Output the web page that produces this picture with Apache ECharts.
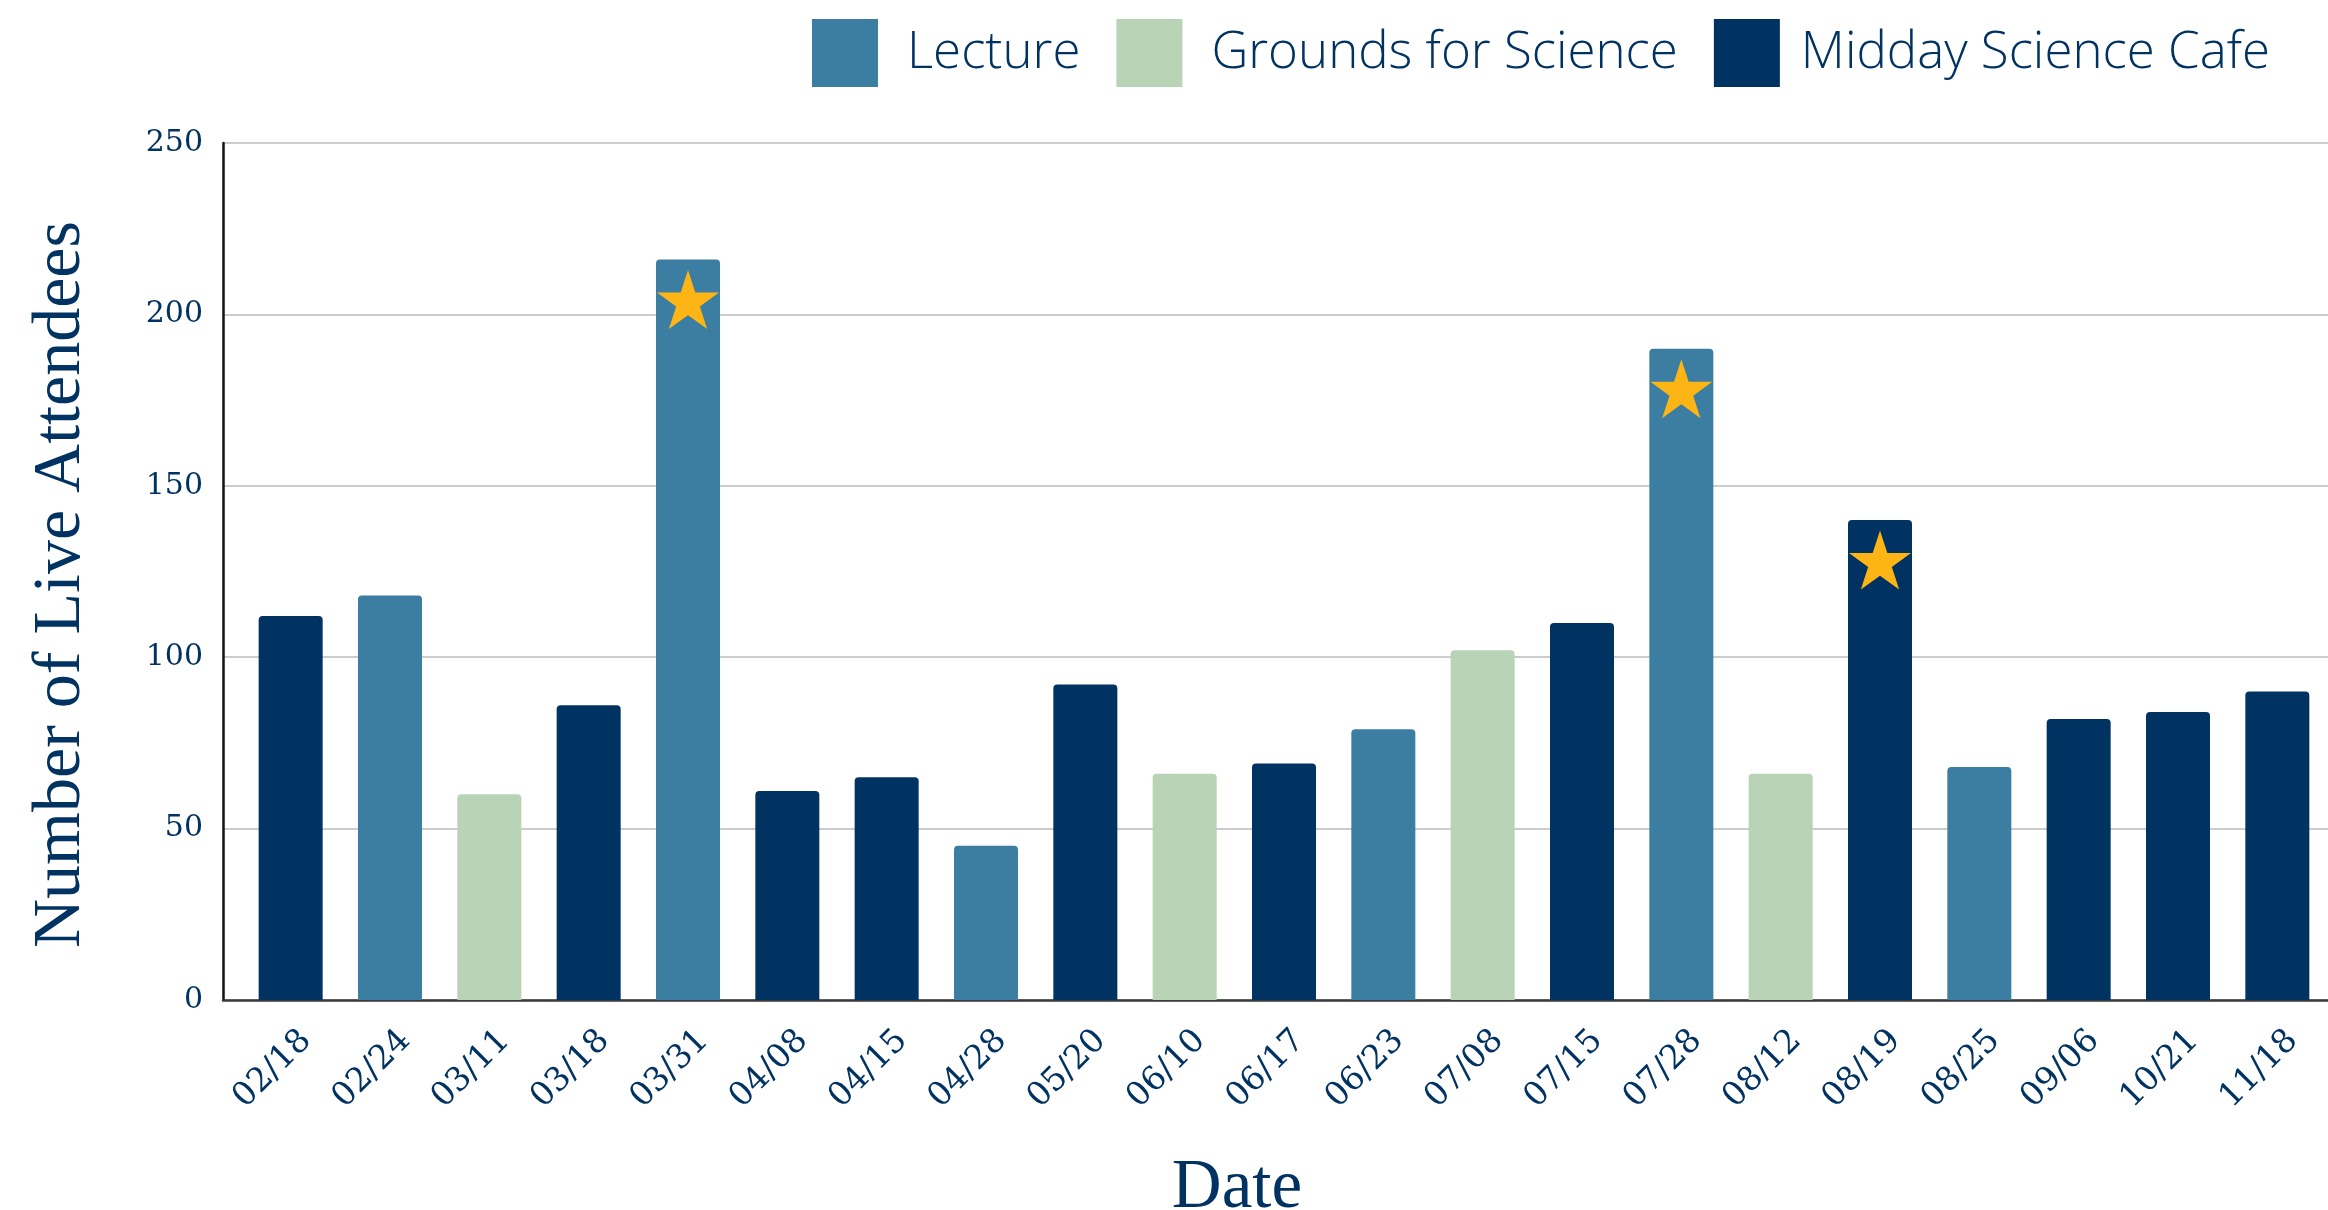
<!DOCTYPE html>
<html>
<head>
<meta charset="utf-8">
<script src="https://cdn.jsdelivr.net/npm/echarts@6/dist/echarts.min.js"></script>
<style>
html,body{margin:0;padding:0;background:#fff;}
#chart{width:2328px;height:1210px;}
</style>
</head>
<body>
<div id="chart"></div>
<script>
const dates = ['02/18','02/24','03/11','03/18','03/31','04/08','04/15','04/28','05/20','06/10','06/17','06/23','07/08','07/15','07/28','08/12','08/19','08/25','09/06','10/21','11/18'];
const eventTypes = ['Midday Science Cafe','Lecture','Grounds for Science','Midday Science Cafe','Lecture','Midday Science Cafe','Midday Science Cafe','Lecture','Midday Science Cafe','Grounds for Science','Midday Science Cafe','Lecture','Grounds for Science','Midday Science Cafe','Lecture','Grounds for Science','Midday Science Cafe','Lecture','Midday Science Cafe','Midday Science Cafe','Midday Science Cafe'];
const attendees = [112,118,60,86,216,61,65,45,92,66,69,79,102,110,190,66,140,68,82,84,90];
const starredDates = ['03/31','07/28','08/19'];
const seriesNames = ['Lecture','Grounds for Science','Midday Science Cafe'];
const yTicks = [0,50,100,150,200,250];

const colors = {'Lecture':'#3B7EA1','Grounds for Science':'#B9D3B6','Midday Science Cafe':'#003262'};
const navy = '#003262';
const starPath = 'path://M50 0 L61.23 34.55 L97.55 34.55 L68.16 55.9 L79.39 90.45 L50 69.1 L20.61 90.45 L31.84 55.9 L2.45 34.55 L38.77 34.55 Z';
const legendPads = {'Lecture':[0,12,0,24],'Grounds for Science':[0,0,0,24],'Midday Science Cafe':[0,0,0,16]};

const barSeries = seriesNames.map(name => ({
  name: name,
  type: 'bar',
  stack: 'all',
  xAxisIndex: 1,
  yAxisIndex: 1,
  barWidth: 64,
  itemStyle: {color: colors[name], borderRadius: [4,4,0,0]},
  data: attendees.map((v, i) => eventTypes[i] === name ? v : '-')
}));

const starSeries = {
  name: 'star',
  type: 'scatter',
  xAxisIndex: 1,
  yAxisIndex: 1,
  symbol: starPath,
  symbolSize: [62, 59],
  symbolOffset: [0, 40],
  itemStyle: {color: '#FDB515', opacity: 1},
  z: 10,
  data: dates.map((d, i) => starredDates.includes(d) ? attendees[i] : '-')
};

const chart = echarts.init(document.getElementById('chart'), null, {renderer: 'canvas'});
chart.setOption({
  animation: false,
  backgroundColor: '#ffffff',
  legend: {
    data: seriesNames.map(n => ({name: n, textStyle: {padding: legendPads[n]}})),
    right: 53,
    top: 14,
    icon: 'rect',
    itemWidth: 66,
    itemHeight: 68,
    itemGap: 36,
    textStyle: {fontFamily: 'Open Sans', fontSize: 51, fontWeight: 300, color: navy}
  },
  grid: [
    {left: 223, right: 0, top: 143, bottom: 210, outerBoundsMode: 'none', containLabel: false},
    {left: 241, width: 2086, top: 143, bottom: 210, outerBoundsMode: 'none', containLabel: false}
  ],
  xAxis: [
    {
      type: 'value', gridIndex: 0, min: 0, max: 1,
      axisLine: {show: true, lineStyle: {color: '#3a3a3a', width: 2.5}},
      axisTick: {show: false}, axisLabel: {show: false}, splitLine: {show: false}
    },
    {
      type: 'category', gridIndex: 1, data: dates,
      axisLine: {show: false}, axisTick: {show: false},
      axisLabel: {
        rotate: 45, margin: 20, interval: 0,
        verticalAlign: 'top', lineHeight: 44,
        fontFamily: 'DejaVu Serif', fontSize: 33, color: navy
      },
      name: 'Date', nameLocation: 'middle', nameGap: 154,
      nameTextStyle: {fontFamily: 'Liberation Serif', fontSize: 69, color: navy, padding: [0, 94, 0, 0]}
    }
  ],
  yAxis: [
    {
      type: 'value', gridIndex: 0, min: yTicks[0], max: yTicks[yTicks.length-1], interval: 50,
      axisLine: {show: true, lineStyle: {color: '#111', width: 2.5}},
      axisTick: {show: false},
      axisLabel: {margin: 20, fontFamily: 'DejaVu Serif', fontSize: 30, color: navy},
      splitLine: {show: true, lineStyle: {color: '#cccccc', width: 2}},
      name: 'Number of Live Attendees', nameLocation: 'middle', nameRotate: 90, nameGap: 128,
      nameTextStyle: {fontFamily: 'Liberation Serif', fontSize: 68, color: navy, padding: [0, 26, 0, 0]}
    },
    {
      type: 'value', gridIndex: 1, min: yTicks[0], max: yTicks[yTicks.length-1], interval: 50,
      show: false, splitLine: {show: false}
    }
  ],
  series: [...barSeries, starSeries]
});
</script>
</body>
</html>
